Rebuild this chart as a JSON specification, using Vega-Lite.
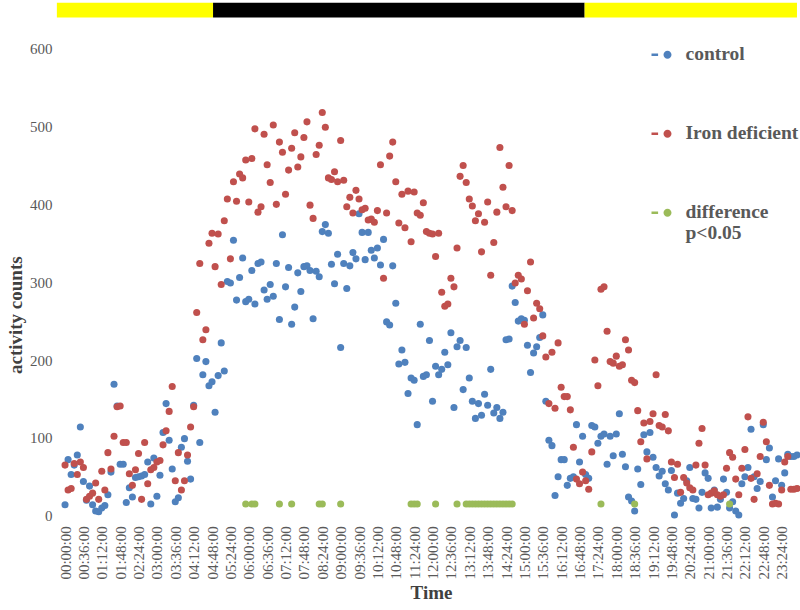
{
"$schema":"https://vega.github.io/schema/vega-lite/v6.json",
"width":735,"height":467,
"autosize":{"type":"none"},
"padding":{"left":63.5,"top":48.7,"right":1.5,"bottom":94.3},
"background":"white",
"config":{"view":{"stroke":null},"font":"Liberation Serif","axis":{"labelOverlap":false,"labelFlush":false,"labelBound":false}},
"layer":[
{"data":{"values":[{"start":-16,"end":290,"phase":"light"},{"start":290,"end":1018,"phase":"dark"},{"start":1018,"end":1434,"phase":"light"}]},
"mark":{"type":"rect"},
"encoding":{
"x":{"field":"start","type":"quantitative","title":"Time","axis":{"labelOverlap":false,"tickCount":60}},
"x2":{"field":"end"},
"y":{"datum":640,"title":"activity counts"},"y2":{"datum":659},
"fill":{"field":"phase","type":"nominal","scale":{"domain":["light","dark"],"range":["#FFFF00","#000000"]},"legend":null}}},
{"data":{"values":[
{"t":0,"control":14,"iron":65},{"t":6,"control":72,"iron":33},{"t":12,"control":53,"iron":35},{"t":18,"control":65,"iron":67},{"t":24,"control":78,"iron":53},{"t":30,"control":114,"iron":69},{"t":36,"control":44,"iron":62},{"t":42,"control":20,"iron":21},{"t":48,"control":38,"iron":25},{"t":54,"control":14,"iron":29},
{"t":60,"control":6,"iron":42},{"t":66,"control":5,"iron":21},{"t":72,"control":10,"iron":57},{"t":78,"control":13,"iron":33},{"t":84,"control":27,"iron":81},{"t":90,"control":56,"iron":60},{"t":96,"control":169,"iron":102},{"t":102,"control":141,"iron":140},{"t":108,"control":66,"iron":141},{"t":114,"control":66,"iron":94},
{"t":120,"control":17,"iron":94},{"t":126,"control":36,"iron":54},{"t":132,"control":24,"iron":39},{"t":138,"control":49,"iron":59},{"t":144,"control":50,"iron":80},{"t":150,"control":51,"iron":21},{"t":156,"control":53,"iron":94},{"t":162,"control":69,"iron":41},{"t":168,"control":15,"iron":59},{"t":174,"control":74,"iron":62},
{"t":180,"control":25,"iron":69},{"t":186,"control":52,"iron":71},{"t":192,"control":107,"iron":91},{"t":198,"control":144,"iron":109},{"t":204,"control":97,"iron":134},{"t":210,"control":60,"iron":166},{"t":216,"control":18,"iron":45},{"t":222,"control":23,"iron":81},{"t":228,"control":88,"iron":33},{"t":234,"control":99,"iron":45},
{"t":240,"control":70,"iron":78},{"t":246,"control":47,"iron":114},{"t":252,"control":142,"iron":140},{"t":258,"control":202,"iron":261},{"t":264,"control":94,"iron":324},{"t":270,"control":181,"iron":226},{"t":276,"control":198,"iron":239},{"t":282,"control":167,"iron":350},{"t":288,"control":172,"iron":363},{"t":294,"control":133,"iron":320},
{"t":300,"control":180,"iron":362},{"t":306,"control":222,"iron":297},{"t":312,"control":186,"iron":379},{"t":318,"control":301,"iron":407},{"t":324,"control":299,"iron":330},{"t":330,"control":354,"iron":429},{"t":336,"control":277,"iron":404},{"t":342,"control":306,"iron":439},{"t":348,"control":331,"iron":434},{"t":354,"control":275,"iron":457,"pdiff":15},
{"t":360,"control":278,"iron":403},{"t":366,"control":315,"iron":459,"pdiff":15},{"t":372,"control":272,"iron":497,"pdiff":15},{"t":378,"control":324,"iron":390},{"t":384,"control":326,"iron":397},{"t":390,"control":290,"iron":490},{"t":396,"control":278,"iron":451},{"t":402,"control":297,"iron":428},{"t":408,"control":282,"iron":502},{"t":414,"control":324,"iron":400},
{"t":420,"control":252,"iron":480,"pdiff":15},{"t":426,"control":361,"iron":467},{"t":432,"control":294,"iron":413},{"t":438,"control":319,"iron":444},{"t":444,"control":246,"iron":472,"pdiff":15},{"t":450,"control":268,"iron":492},{"t":456,"control":312,"iron":448},{"t":462,"control":288,"iron":461},{"t":468,"control":320,"iron":486},{"t":474,"control":321,"iron":506},
{"t":480,"control":315,"iron":399},{"t":486,"control":253,"iron":382},{"t":492,"control":314,"iron":464},{"t":498,"control":307,"iron":476,"pdiff":15},{"t":504,"control":365,"iron":518,"pdiff":15},{"t":510,"control":374,"iron":499},{"t":516,"control":363,"iron":434},{"t":522,"control":323,"iron":432},{"t":528,"control":298,"iron":442},{"t":534,"control":336,"iron":429},
{"t":540,"control":216,"iron":482,"pdiff":15},{"t":546,"control":324,"iron":431},{"t":552,"control":292,"iron":397},{"t":558,"control":321,"iron":409},{"t":564,"control":338,"iron":389},{"t":570,"control":330,"iron":418},{"t":576,"control":388,"iron":407},{"t":582,"control":364,"iron":393},{"t":588,"control":329,"iron":395},{"t":594,"control":364,"iron":380},
{"t":600,"control":341,"iron":381},{"t":606,"control":331,"iron":377},{"t":612,"control":344,"iron":392},{"t":618,"control":322,"iron":451},{"t":624,"control":355,"iron":305},{"t":630,"control":249,"iron":389},{"t":636,"control":245,"iron":462},{"t":642,"control":321,"iron":480},{"t":648,"control":273,"iron":429},{"t":654,"control":195,"iron":376},
{"t":660,"control":213,"iron":413},{"t":666,"control":197,"iron":370},{"t":672,"control":157,"iron":417},{"t":678,"control":177,"iron":352,"pdiff":15},{"t":684,"control":174,"iron":416,"pdiff":15},{"t":690,"control":117,"iron":389,"pdiff":15},{"t":696,"control":246,"iron":386},{"t":702,"control":179,"iron":402},{"t":708,"control":181,"iron":365},{"t":714,"control":225,"iron":363},
{"t":720,"control":147,"iron":362},{"t":726,"control":192,"iron":333,"pdiff":15},{"t":732,"control":181,"iron":363},{"t":738,"control":188,"iron":287},{"t":744,"control":210,"iron":269},{"t":750,"control":194,"iron":272},{"t":756,"control":235,"iron":305},{"t":762,"control":139,"iron":294},{"t":768,"control":217,"iron":344,"pdiff":15},{"t":774,"control":225,"iron":436},
{"t":780,"control":162,"iron":450},{"t":786,"control":216,"iron":428,"pdiff":15},{"t":792,"control":177,"iron":407,"pdiff":15},{"t":798,"control":147,"iron":398,"pdiff":15},{"t":804,"control":125,"iron":379,"pdiff":15},{"t":810,"control":144,"iron":388,"pdiff":15},{"t":816,"control":129,"iron":339,"pdiff":15},{"t":822,"control":156,"iron":377,"pdiff":15},{"t":828,"control":142,"iron":403,"pdiff":15},{"t":834,"control":188,"iron":309,"pdiff":15},
{"t":840,"control":132,"iron":351,"pdiff":15},{"t":846,"control":139,"iron":390,"pdiff":15},{"t":852,"control":125,"iron":473,"pdiff":15},{"t":858,"control":133,"iron":422,"pdiff":15},{"t":864,"control":226,"iron":397,"pdiff":15},{"t":870,"control":227,"iron":450,"pdiff":15},{"t":876,"control":295,"iron":392,"pdiff":15},{"t":882,"control":274,"iron":299},{"t":888,"control":250,"iron":309},{"t":894,"control":253,"iron":304},
{"t":900,"control":251,"iron":246},{"t":906,"control":219,"iron":289},{"t":912,"control":184,"iron":326},{"t":918,"control":209,"iron":254},{"t":924,"control":217,"iron":273},{"t":930,"control":229,"iron":266},{"t":936,"control":258,"iron":231},{"t":942,"control":147,"iron":204},{"t":948,"control":97,"iron":144},{"t":954,"control":90,"iron":210},
{"t":960,"control":26,"iron":138},{"t":966,"control":50,"iron":222},{"t":972,"control":72,"iron":165},{"t":978,"control":72,"iron":153},{"t":984,"control":39,"iron":153},{"t":990,"control":48,"iron":136},{"t":996,"control":50,"iron":88},{"t":1002,"control":117,"iron":47},{"t":1008,"control":69,"iron":41},{"t":1014,"control":102,"iron":56},
{"t":1020,"control":53,"iron":45},{"t":1026,"control":48,"iron":34},{"t":1032,"control":116,"iron":82},{"t":1038,"control":114,"iron":200},{"t":1044,"control":93,"iron":167},{"t":1050,"control":102,"iron":291,"pdiff":15},{"t":1056,"control":105,"iron":294},{"t":1062,"control":66,"iron":237},{"t":1068,"control":102,"iron":198},{"t":1074,"control":77,"iron":196},
{"t":1080,"control":105,"iron":205},{"t":1086,"control":131,"iron":192},{"t":1092,"control":79,"iron":194},{"t":1098,"control":63,"iron":226},{"t":1104,"control":24,"iron":213},{"t":1110,"control":19,"iron":174},{"t":1116,"control":6,"iron":171,"pdiff":15},{"t":1122,"control":60,"iron":135},{"t":1128,"control":40,"iron":95},{"t":1134,"control":104,"iron":119},
{"t":1140,"control":82,"iron":73},{"t":1146,"control":107,"iron":121},{"t":1152,"control":75,"iron":131},{"t":1158,"control":62,"iron":181},{"t":1164,"control":51,"iron":116},{"t":1170,"control":57,"iron":114},{"t":1176,"control":41,"iron":130},{"t":1182,"control":33,"iron":109},{"t":1188,"control":58,"iron":69},{"t":1194,"control":1,"iron":49},
{"t":1200,"control":29,"iron":66},{"t":1206,"control":16,"iron":30},{"t":1212,"control":22,"iron":49},{"t":1218,"control":45,"iron":42},{"t":1224,"control":62,"iron":36},{"t":1230,"control":22,"iron":33},{"t":1236,"control":21,"iron":65},{"t":1242,"control":10,"iron":93},{"t":1248,"control":30,"iron":112},{"t":1254,"control":55,"iron":65},
{"t":1260,"control":48,"iron":27},{"t":1266,"control":10,"iron":29},{"t":1272,"control":33,"iron":32},{"t":1278,"control":11,"iron":27},{"t":1284,"control":21,"iron":25},{"t":1290,"control":47,"iron":27},{"t":1296,"control":30,"iron":61},{"t":1302,"control":10,"iron":81,"pdiff":15},{"t":1308,"control":18,"iron":75},{"t":1314,"control":6,"iron":47},
{"t":1320,"control":1,"iron":27},{"t":1326,"control":41,"iron":61},{"t":1332,"control":50,"iron":85},{"t":1338,"control":62,"iron":127},{"t":1344,"control":111,"iron":48},{"t":1350,"control":50,"iron":21},{"t":1356,"control":35,"iron":54},{"t":1362,"control":44,"iron":76},{"t":1368,"control":117,"iron":120},{"t":1374,"control":72,"iron":95},
{"t":1380,"control":87,"iron":39},{"t":1386,"control":24,"iron":15},{"t":1392,"control":45,"iron":16},{"t":1398,"control":73,"iron":15},{"t":1404,"control":39,"iron":33},{"t":1410,"control":55,"iron":69},{"t":1416,"control":79,"iron":76},{"t":1422,"control":76,"iron":34},{"t":1428,"control":76,"iron":34},{"t":1434,"control":78,"iron":35}
]},
"transform":[{"fold":["control","iron","pdiff"],"as":["series","v"]},{"filter":"isValid(datum.v)"}],
"mark":{"type":"circle","size":50,"opacity":1},
"encoding":{
"x":{"field":"t","type":"quantitative","title":"Time","scale":{"domain":[-3,1437],"nice":false,"zero":false},
"axis":{"values":[0,36,72,108,144,180,216,252,288,324,360,396,432,468,504,540,576,612,648,684,720,756,792,828,864,900,936,972,1008,1044,1080,1116,1152,1188,1224,1260,1296,1332,1368,1404],"tickCount":60,
"labelExpr":"utcFormat(datum.value*60000,'%H:%M:%S')","labelAngle":270,"labelOverlap":false,"labelFlush":false,"labelBound":false,
"domain":false,"ticks":false,"grid":false,"labelFont":"Liberation Serif","labelFontSize":15,"labelColor":"#595959","labelPadding":10,
"titleFont":"Liberation Serif","titleFontSize":19,"titleFontWeight":"bold","titleColor":"#404040","titlePadding":4}},
"y":{"field":"v","type":"quantitative","title":"activity counts","scale":{"domain":[0,600],"nice":false},
"axis":{"values":[0,100,200,300,400,500,600],"domain":false,"ticks":false,"grid":false,"labelFont":"Liberation Serif","labelFontSize":15,"labelColor":"#595959","labelPadding":11.5,
"titleFont":"Liberation Serif","titleFontSize":19,"titleFontWeight":"bold","titleColor":"#404040","titlePadding":4,"titleY":266}},
"color":{"field":"series","type":"nominal","scale":{"domain":["control","iron","pdiff"],"range":["#4F81BD","#C0504D","#9BBB59"]},
"legend":{"orient":"none","legendX":588,"legendY":1,"direction":"vertical","title":null,"padding":0,
"symbolType":"M-1,-0.62H-0.34V-0.38H-1Z M0.2,-0.5A0.4,0.4 0 1,0 1,-0.5A0.4,0.4 0 1,0 0.2,-0.5Z","symbolSize":400,"symbolStrokeWidth":0,"symbolOpacity":1,
"labelFont":"Liberation Serif","labelFontSize":19.5,"labelFontWeight":"bold","labelColor":"#595959","labelOffset":14,"labelBaseline":"alphabetic","labelLimit":0,"rowPadding":59,
"labelExpr":"datum.value=='control'?'control':datum.value=='iron'?'Iron deficient':['difference','p<0.05']"}},
"order":{"field":"series","type":"ordinal"}}}
]
}
